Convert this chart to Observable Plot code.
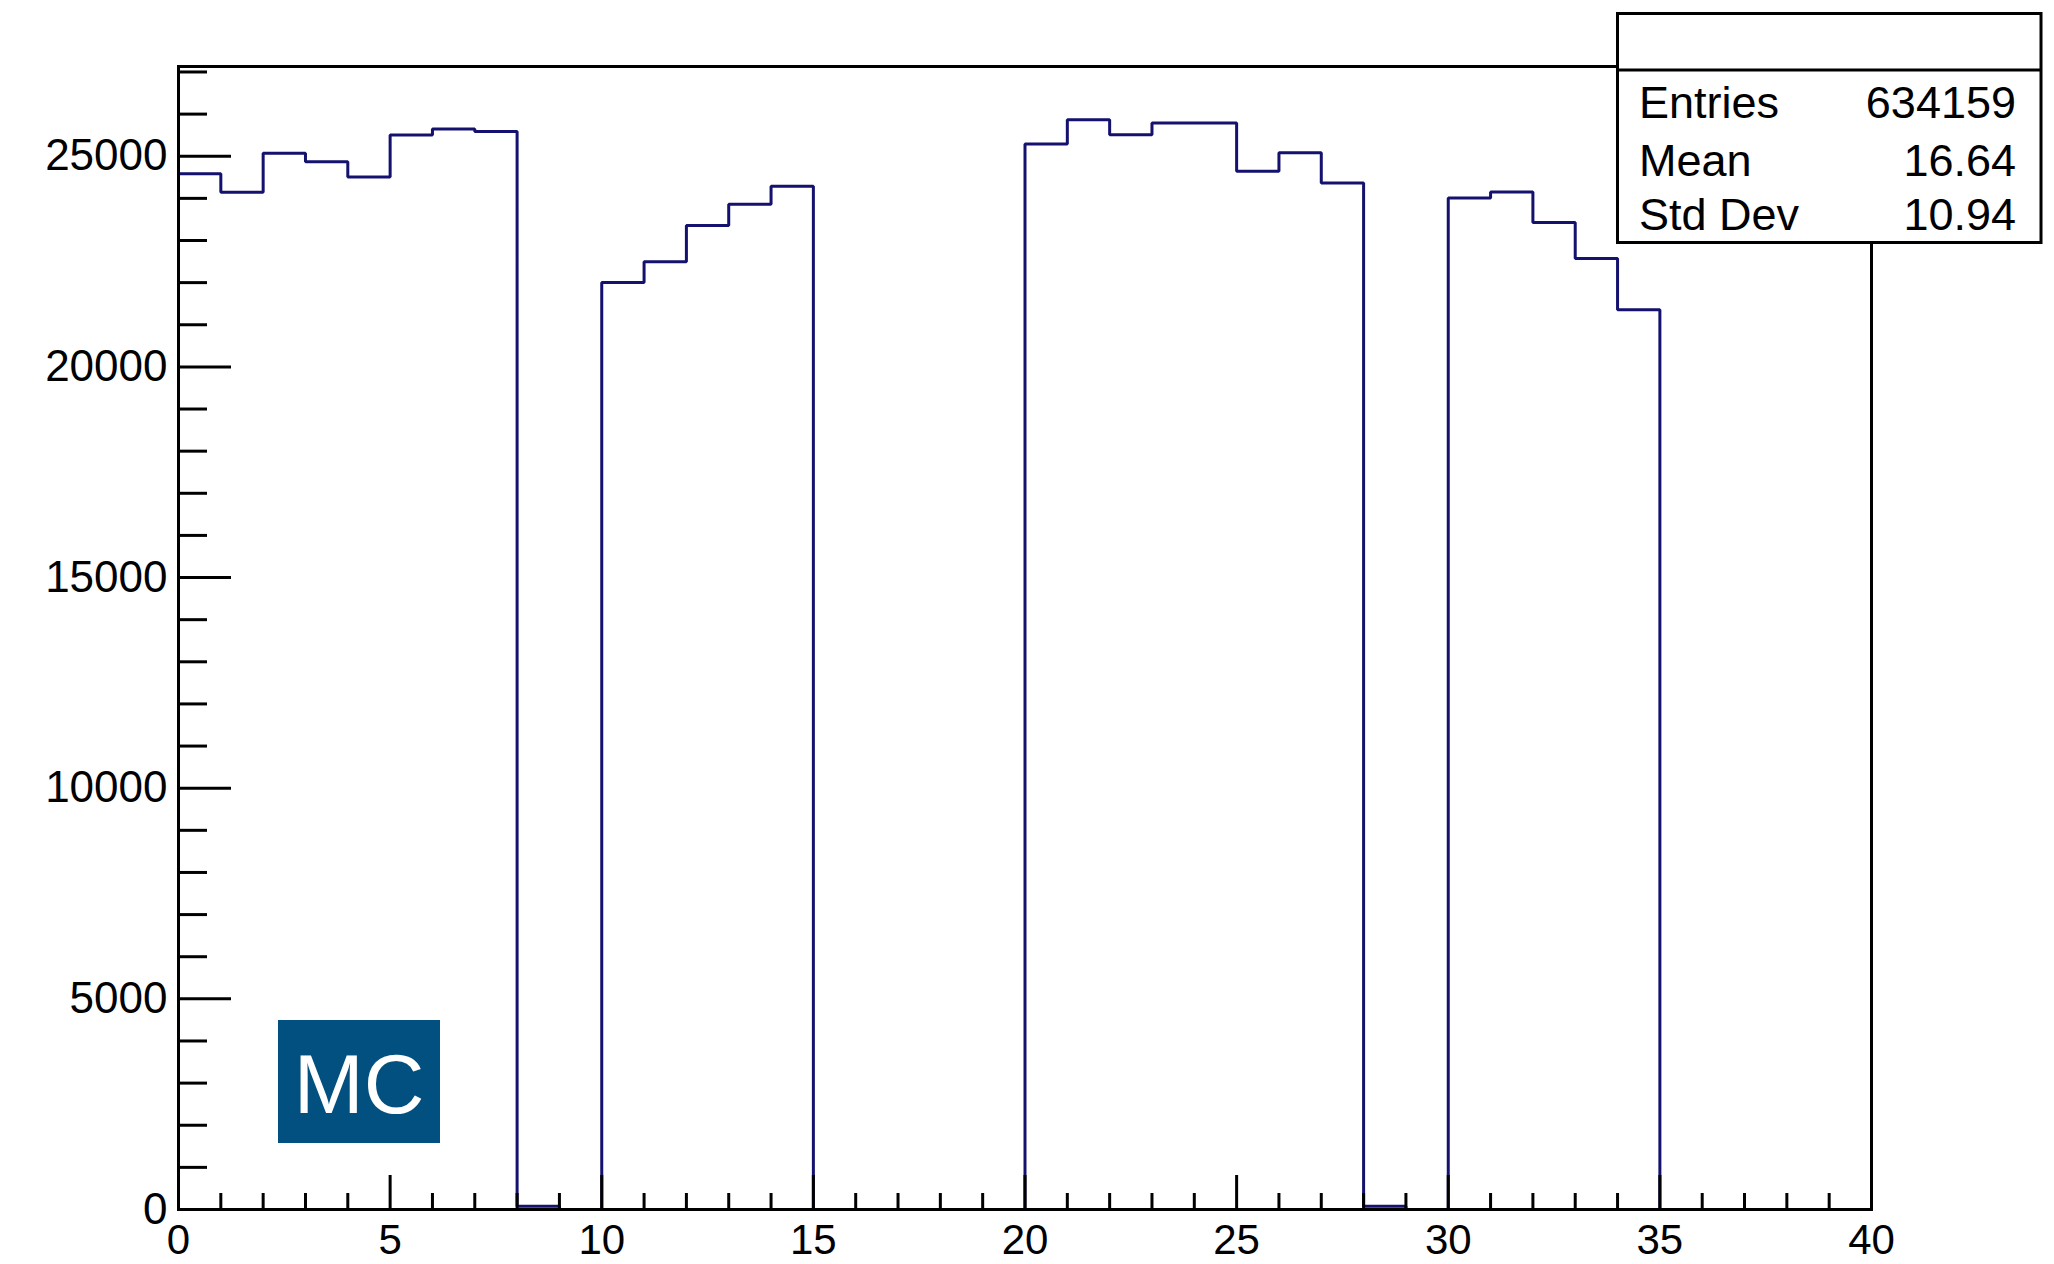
<!DOCTYPE html>
<html>
<head>
<meta charset="utf-8">
<script src="https://cdn.jsdelivr.net/npm/d3@7"></script>
<script src="https://cdn.jsdelivr.net/npm/@observablehq/plot@0.6"></script>
<style>
  html, body { margin: 0; padding: 0; background: #fff; }
  #wrap { position: relative; width: 2054px; height: 1264px; overflow: hidden; }
  #overlay { position: absolute; left: 0; top: 0; pointer-events: none; }
</style>
</head>
<body>
<div id="wrap"></div>
<script>
// ---- data ----
const binLow = [0,1,2,3,4,5,6,7,8,9,10,11,12,13,14,15,16,17,18,19,20,21,22,23,24,25,26,27,28,29,30,31,32,33,34,35,36,37,38,39];
const counts = [24585,24144,25071,24868,24505,25505,25646,25590,80,0,
                22005,22493,23358,23861,24285,0,0,0,0,0,
                25292,25866,25512,25788,25788,24646,25080,24363,80,0,
                24010,24151,23429,22571,21354,0,0,0,0,0];
const xMax = 40;
const yMax = 27130;
const xMajor = [0,5,10,15,20,25,30,35,40];
const xMinor = [1,2,3,4,6,7,8,9,11,12,13,14,16,17,18,19,21,22,23,24,26,27,28,29,31,32,33,34,36,37,38,39];
const yMajor = [0,5000,10000,15000,20000,25000];
const yMinor = [1000,2000,3000,4000,6000,7000,8000,9000,11000,12000,13000,14000,16000,17000,18000,19000,21000,22000,23000,24000,26000,27000];
const statLabels = ["Entries","Mean","Std Dev"];
const statValues = ["634159","16.64","10.94"];
const tagText = "MC";

// ---- layout ----
const W = 2054, H = 1264;
const mL = 178, mR = 183, mT = 66, mB = 55;
const pW = W - mL - mR, pH = H - mT - mB;
const font = "'Liberation Sans', Arial, Helvetica, sans-serif";
const histColor = "#14126e";

const steps = binLow.map((x, i) => ({x, y: counts[i]}));
steps.push({x: xMax, y: counts[counts.length - 1]});

const chart = Plot.plot({
  width: W, height: H,
  marginLeft: mL, marginRight: mR, marginTop: mT, marginBottom: mB,
  style: {fontFamily: font, background: "white", color: "black"},
  x: {domain: [0, xMax], label: null},
  y: {domain: [0, yMax], label: null},
  marks: [
    Plot.line(steps, {x: "x", y: "y", curve: "step-after", stroke: histColor, strokeWidth: 3, strokeLinejoin: "miter"}),
    Plot.tickY(yMinor, {y: d => d, insetRight: pW - 29, stroke: "black", strokeWidth: 3}),
    Plot.tickY(yMajor, {y: d => d, insetRight: pW - 53, stroke: "black", strokeWidth: 3}),
    Plot.tickX(xMinor, {x: d => d, insetTop: pH - 16, stroke: "black", strokeWidth: 3}),
    Plot.tickX(xMajor, {x: d => d, insetTop: pH - 34, stroke: "black", strokeWidth: 3}),
    Plot.frame({stroke: "black", strokeWidth: 3}),
    Plot.axisY(yMajor, {tickSize: 0, tickPadding: 11, fontSize: 44, fontFamily: font, label: null, tickFormat: d => String(d)}),
    Plot.axisX(xMajor, {tickSize: 0, tickPadding: 15, fontSize: 42, fontFamily: font, label: null, tickFormat: d => String(d)})
  ]
});
const wrap = document.getElementById("wrap");
wrap.appendChild(chart);

// ---- overlay: stats box and MC tag ----
const ov = d3.select(wrap).append("svg")
  .attr("id", "overlay").attr("width", W).attr("height", H)
  .style("font-family", font);

const bx = 1617.5, by = 13.5, bw = 423.5, bh = 229;
ov.append("rect").attr("x", bx).attr("y", by).attr("width", bw).attr("height", bh)
  .attr("fill", "white").attr("stroke", "black").attr("stroke-width", 3);
ov.append("line").attr("x1", bx).attr("x2", bx + bw).attr("y1", 70).attr("y2", 70)
  .attr("stroke", "black").attr("stroke-width", 3);
const rowBase = [118, 176, 230];
statLabels.forEach((t, i) => {
  ov.append("text").attr("x", 1639).attr("y", rowBase[i]).attr("font-size", 45)
    .attr("fill", "black").text(t);
  ov.append("text").attr("x", 2016).attr("y", rowBase[i]).attr("font-size", 45)
    .attr("text-anchor", "end").attr("fill", "black").text(statValues[i]);
});

ov.append("rect").attr("x", 278).attr("y", 1020).attr("width", 162).attr("height", 123)
  .attr("fill", "#02507f");
ov.append("text").attr("x", 359).attr("y", 1113).attr("font-size", 84)
  .attr("text-anchor", "middle").attr("fill", "white").text(tagText);
</script>
</body>
</html>
